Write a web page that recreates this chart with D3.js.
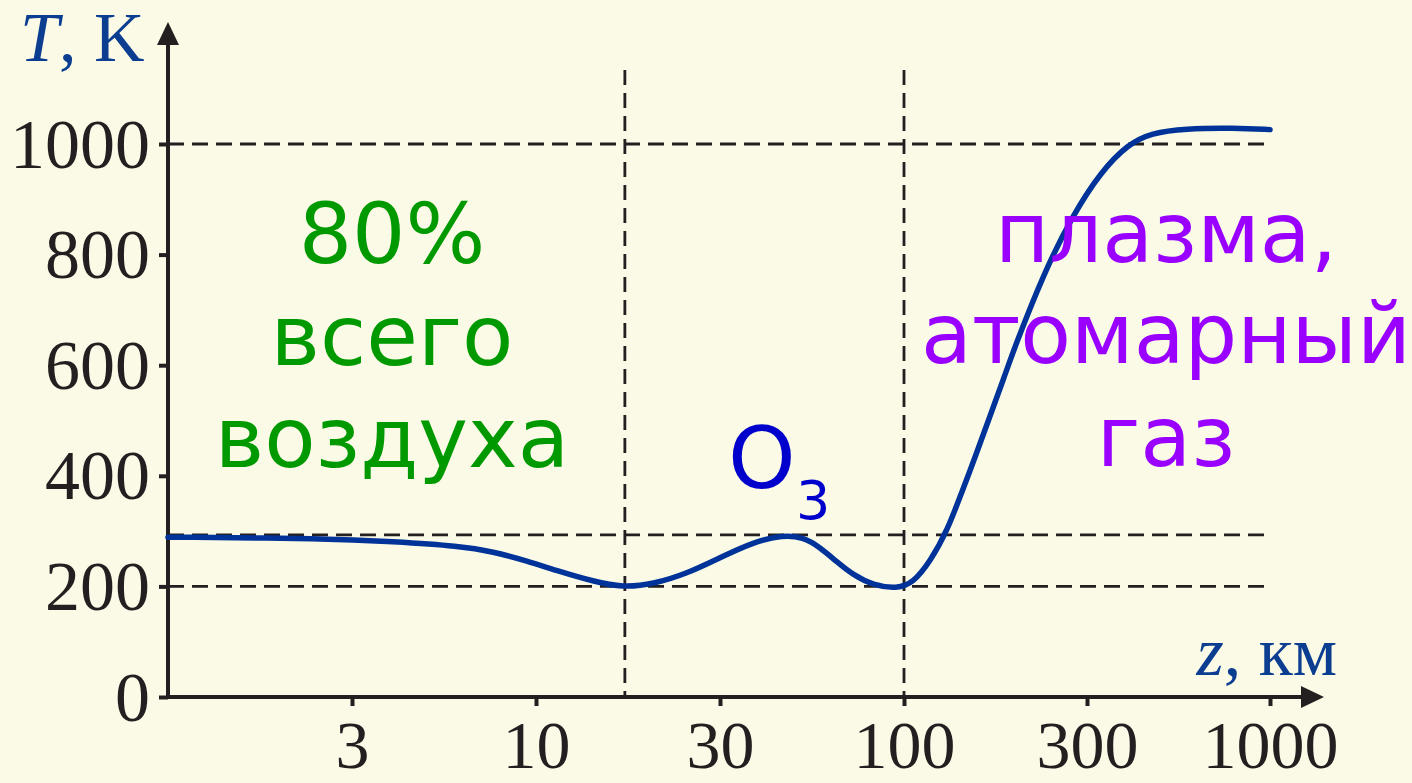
<!DOCTYPE html>
<html>
<head>
<meta charset="utf-8">
<script src="https://cdn.jsdelivr.net/npm/d3@7"></script>
<style>
  html, body { margin: 0; padding: 0; background: #fafae6; }
  svg { display: block; }
</style>
</head>
<body>
<svg id="chart" width="1412" height="783"></svg>
<script>
// ---- data ----
const zTicks = [3, 10, 30, 100, 300, 1000];
const tTicks = [0, 200, 400, 600, 800, 1000];
const zValues = [1, 2.58, 3.92, 6.08, 7.54, 9.43, 11.5, 14.1, 16.8, 20.1, 24.6, 30, 37.2, 45.3, 51.6, 57.7, 64.5, 71.6, 81.7, 95.5,
                 105.6, 117, 129.6, 142.8, 148.9, 187.3, 193.1, 231.4, 277.4, 329, 393.5, 458, 570, 793, 1000];
const tValues = [289, 287, 281, 273, 263, 246, 227, 209, 198, 204, 223, 252, 280, 293, 289, 271, 244, 221, 202, 196,
                 206, 245, 300, 378, 410, 600, 627, 767, 875, 950, 1000, 1020, 1028, 1029, 1026];
const refT = [200, 293, 1000];
const refZ = [17, 100];
const greenLines = ["80%", "всего", "воздуха"];
const purpleLines = ["плазма,", "атомарный", "газ"];

// ---- layout ----
const svg = d3.select("#chart");
const W = 1412, H = 783;
const x0 = 168, y0 = 697;
svg.append("rect").attr("width", W).attr("height", H).attr("fill", "#fafae6");

const x = d3.scaleLog()
  .domain([1].concat(zTicks))
  .range([168, 352, 536, 720, 904, 1087, 1270]);
const y = d3.scaleLinear().domain([0, 1000]).range([y0, 144]);

const ink = "#231f20";
const serif = "'Liberation Serif', 'Times New Roman', serif";
const sans = "'DejaVu Sans', Verdana, sans-serif";

// dashed reference lines
svg.selectAll("line.refh").data(refT).enter().append("line")
  .attr("x1", x0).attr("x2", x(1000) - 2)
  .attr("y1", d => y(d)).attr("y2", d => y(d))
  .attr("stroke", ink).attr("stroke-width", 2.8).attr("stroke-dasharray", "16 8");
svg.selectAll("line.refv").data(refZ).enter().append("line")
  .attr("x1", d => x(d)).attr("x2", d => x(d))
  .attr("y1", 70).attr("y2", y0)
  .attr("stroke", ink).attr("stroke-width", 2.8).attr("stroke-dasharray", "15 8");

// axes
const xAxis = svg.append("g").attr("transform", `translate(0,${y0})`)
  .call(d3.axisBottom(x).tickValues(zTicks).tickSize(9).tickFormat(d3.format("d")));
xAxis.select(".domain").remove();
xAxis.selectAll(".tick line").attr("stroke", ink).attr("stroke-width", 4);
xAxis.selectAll(".tick text").attr("y", 71).attr("dy", 0)
  .attr("font-family", serif).attr("font-size", 68).attr("fill", ink);

const yAxis = svg.append("g").attr("transform", `translate(${x0},0)`)
  .call(d3.axisLeft(y).tickValues(tTicks).tickSize(9).tickPadding(9).tickFormat(d3.format("d")));
yAxis.select(".domain").remove();
yAxis.selectAll(".tick line").attr("stroke", ink).attr("stroke-width", 4);
yAxis.selectAll(".tick text").attr("dy", "0.33em")
  .attr("font-family", serif).attr("font-size", 70).attr("fill", ink);

// axis lines with arrows
svg.append("line").attr("x1", x0).attr("x2", x0).attr("y1", y0 + 2).attr("y2", 40)
  .attr("stroke", ink).attr("stroke-width", 4);
svg.append("path").attr("d", `M${x0},22 L${x0 - 11},45 L${x0 + 11},45 Z`).attr("fill", ink);
svg.append("line").attr("x1", x0 - 2).attr("x2", 1305).attr("y1", y0).attr("y2", y0)
  .attr("stroke", ink).attr("stroke-width", 4);
svg.append("path").attr("d", `M1324,${y0} L1301,${y0 - 11} L1301,${y0 + 11} Z`).attr("fill", ink);

// axis titles
const titleBlue = "#0b3d91";
const tt = svg.append("text").attr("x", 20).attr("y", 61)
  .attr("font-family", serif).attr("font-size", 70).attr("fill", titleBlue);
tt.append("tspan").attr("font-style", "italic").text("T");
tt.append("tspan").text(", K");
const zt = svg.append("text").attr("x", 1337).attr("y", 675).attr("text-anchor", "end")
  .attr("font-family", serif).attr("font-size", 70).attr("fill", titleBlue);
zt.append("tspan").attr("font-style", "italic").text("z");
zt.append("tspan").text(", км");

// curve
const pts = zValues.map((z, i) => [x(z), y(tValues[i])]);
svg.append("path").datum(pts)
  .attr("d", d3.line().curve(d3.curveBasis))
  .attr("fill", "none").attr("stroke", "#003399").attr("stroke-width", 5.5)
  .attr("stroke-linecap", "round").attr("stroke-linejoin", "round");

// annotations
svg.selectAll("text.green").data(greenLines).enter().append("text")
  .attr("x", 392).attr("y", (d, i) => [263, 365, 467][i]).attr("text-anchor", "middle")
  .attr("font-family", sans).attr("font-size", 84).attr("fill", "#009900").text(d => d);
svg.selectAll("text.purple").data(purpleLines).enter().append("text")
  .attr("x", 1166).attr("y", (d, i) => [262, 363, 466][i]).attr("text-anchor", "middle")
  .attr("font-family", sans).attr("font-size", 83).attr("fill", "#9900ff").text(d => d);
svg.append("text").attr("x", 728).attr("y", 488)
  .attr("font-family", sans).attr("font-size", 86).attr("fill", "#0000cc").text("O");
svg.append("text").attr("x", 796).attr("y", 519)
  .attr("font-family", sans).attr("font-size", 54).attr("fill", "#0000cc").text("3");
</script>
</body>
</html>
